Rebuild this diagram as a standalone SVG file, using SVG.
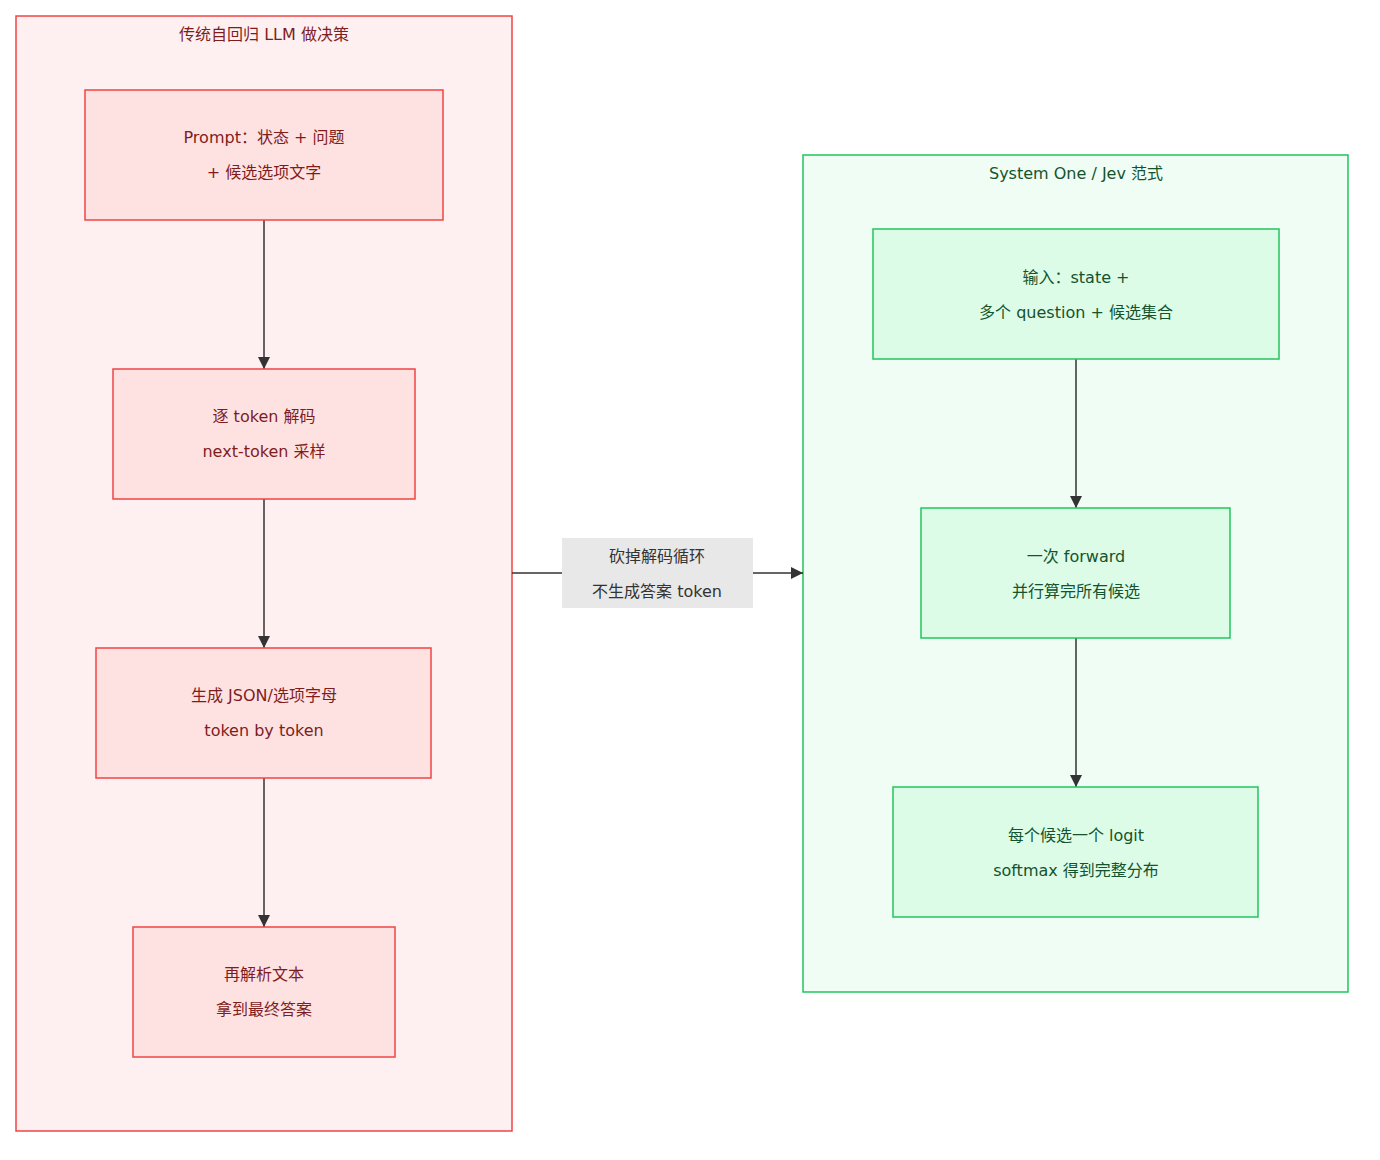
<svg xmlns="http://www.w3.org/2000/svg" width="1380" height="1160" viewBox="0 0 1380 1160">
<style>
text{font-family:"DejaVu Sans","Noto Sans CJK SC",sans-serif;font-size:16px;text-anchor:middle}
.rc{fill:#fef0f0;stroke:#ef4444;stroke-width:1.5}
.rn{fill:#fee2e2;stroke:#ef4444;stroke-width:1.5}
.rt{fill:#7f1d1d}
.gc{fill:#f0fdf4;stroke:#22c55e;stroke-width:1.5}
.gn{fill:#dcfce7;stroke:#22c55e;stroke-width:1.5}
.gt{fill:#14532d}
.e{stroke:#333;stroke-width:1.5;fill:none;marker-end:url(#a)}
</style>
<defs><marker id="a" viewBox="0 0 10 10" refX="10" refY="5" markerWidth="8" markerHeight="8" orient="auto"><path d="M0,0L10,5L0,10z" fill="#333"/></marker></defs>
<g id="left"><rect class="rc" x="16" y="16" width="496" height="1115"/><text class="rt" x="264" y="40">传统自回归 LLM 做决策</text></g>
<g id="right"><rect class="gc" x="803" y="155" width="545" height="837"/><text class="gt" x="1076" y="179">System One / Jev 范式</text></g>
<g id="connectors">
<path class="e" d="M264,220V369"/><path class="e" d="M264,499V648"/><path class="e" d="M264,778V927"/>
<path class="e" d="M1076,359V508"/><path class="e" d="M1076,638V787"/>
<path class="e" d="M512,573H803"/>
<rect x="562" y="538" width="191" height="70" fill="#e8e8e8"/>
<text x="657" y="562" fill="#333">砍掉解码循环</text><text x="657" y="597" fill="#333">不生成答案 token</text>
</g>
<g id="n1"><rect class="rn" x="85" y="90" width="358" height="130"/><text class="rt" x="264" y="143">Prompt：状态 + 问题</text><text class="rt" x="264" y="178">+ 候选选项文字</text></g>
<g id="n2"><rect class="rn" x="113" y="369" width="302" height="130"/><text class="rt" x="264" y="422">逐 token 解码</text><text class="rt" x="264" y="457">next-token 采样</text></g>
<g id="n3"><rect class="rn" x="96" y="648" width="335" height="130"/><text class="rt" x="264" y="701">生成 JSON/选项字母</text><text class="rt" x="264" y="736">token by token</text></g>
<g id="n4"><rect class="rn" x="133" y="927" width="262" height="130"/><text class="rt" x="264" y="980">再解析文本</text><text class="rt" x="264" y="1015">拿到最终答案</text></g>
<g id="m1"><rect class="gn" x="873" y="229" width="406" height="130"/><text class="gt" x="1076" y="283">输入：state +</text><text class="gt" x="1076" y="318">多个 question + 候选集合</text></g>
<g id="m2"><rect class="gn" x="921" y="508" width="309" height="130"/><text class="gt" x="1076" y="562">一次 forward</text><text class="gt" x="1076" y="597">并行算完所有候选</text></g>
<g id="m3"><rect class="gn" x="893" y="787" width="365" height="130"/><text class="gt" x="1076" y="841">每个候选一个 logit</text><text class="gt" x="1076" y="876">softmax 得到完整分布</text></g>
</svg>
